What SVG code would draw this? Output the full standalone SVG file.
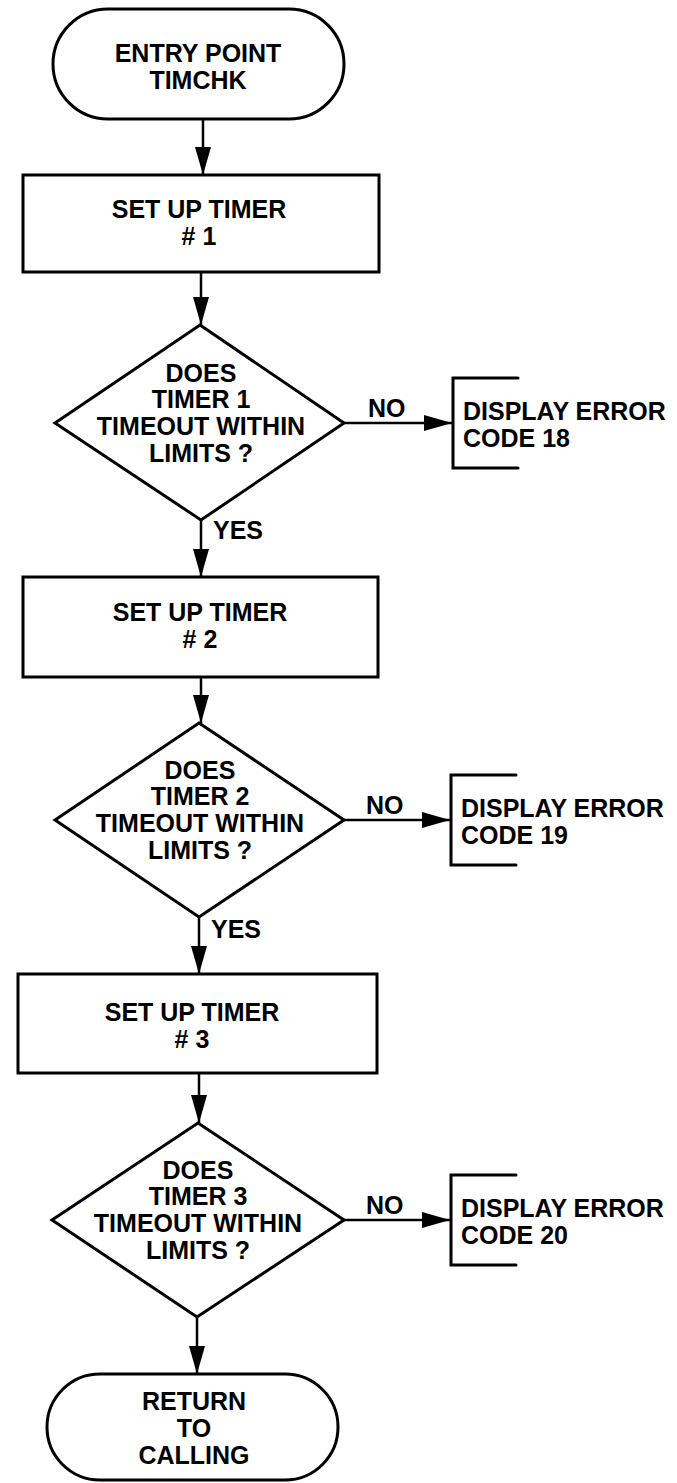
<svg xmlns="http://www.w3.org/2000/svg" width="677" height="1483" viewBox="0 0 677 1483">
<style>
.s{fill:#fff;stroke:#000;stroke-width:3;stroke-linejoin:miter}
.b{fill:none;stroke:#000;stroke-width:3;stroke-linecap:round}
.c{fill:none;stroke:#000;stroke-width:2.5}
text{font-family:"Liberation Sans",Arial,sans-serif;font-weight:bold;font-size:25px;fill:#000}
.m{text-anchor:middle}
</style>
<defs>
<marker id="ah" markerUnits="userSpaceOnUse" markerWidth="28" markerHeight="16" refX="28" refY="8" orient="auto">
<path d="M0,0 L28,8 L0,16 Z" fill="#000"/>
</marker>
</defs>
<rect width="677" height="1483" fill="#fff"/>
<g id="connectors">
<line class="c" x1="203" y1="119" x2="203" y2="175" marker-end="url(#ah)"/>
<line class="c" x1="201" y1="272" x2="201" y2="325" marker-end="url(#ah)"/>
<line class="c" x1="344" y1="423" x2="452" y2="423" marker-end="url(#ah)"/>
<line class="c" x1="201" y1="520" x2="201" y2="577" marker-end="url(#ah)"/>
<line class="c" x1="201" y1="677" x2="201" y2="723" marker-end="url(#ah)"/>
<line class="c" x1="344" y1="820" x2="450" y2="820" marker-end="url(#ah)"/>
<line class="c" x1="199" y1="917" x2="199" y2="974" marker-end="url(#ah)"/>
<line class="c" x1="199" y1="1073" x2="199" y2="1123" marker-end="url(#ah)"/>
<line class="c" x1="344" y1="1220" x2="450" y2="1220" marker-end="url(#ah)"/>
<line class="c" x1="197" y1="1317" x2="197" y2="1374" marker-end="url(#ah)"/>
<text x="368" y="417">NO</text>
<text x="213" y="539">YES</text>
<text x="366" y="814">NO</text>
<text x="211" y="938">YES</text>
<text x="366" y="1214">NO</text>
</g>
<g id="entry">
<rect class="s" x="53" y="9" width="291" height="110" rx="55" ry="55"/>
<text class="m" x="198" y="62">ENTRY POINT</text>
<text class="m" x="198" y="89">TIMCHK</text>
</g>
<g id="timer1">
<rect class="s" x="23" y="175" width="356" height="97"/>
<text class="m" x="199" y="218">SET UP TIMER</text>
<text class="m" x="199" y="245"># 1</text>
</g>
<g id="check1">
<polygon class="s" points="200,325 344,423 201,520 55,423"/>
<text class="m" x="201" y="382">DOES</text>
<text class="m" x="201" y="408">TIMER 1</text>
<text class="m" x="201" y="435">TIMEOUT WITHIN</text>
<text class="m" x="201" y="462">LIMITS ?</text>
</g>
<g id="error18">
<path class="b" d="M518,378 H453 V468 H518"/>
<text x="463" y="420">DISPLAY ERROR</text>
<text x="463" y="447">CODE 18</text>
</g>
<g id="timer2">
<rect class="s" x="23" y="577" width="355" height="100"/>
<text class="m" x="200" y="621">SET UP TIMER</text>
<text class="m" x="200" y="648"># 2</text>
</g>
<g id="check2">
<polygon class="s" points="199,723 344,820 199,917 55,820"/>
<text class="m" x="200" y="779">DOES</text>
<text class="m" x="200" y="805">TIMER 2</text>
<text class="m" x="200" y="832">TIMEOUT WITHIN</text>
<text class="m" x="200" y="859">LIMITS ?</text>
</g>
<g id="error19">
<path class="b" d="M516,775 H451 V865 H516"/>
<text x="461" y="817">DISPLAY ERROR</text>
<text x="461" y="844">CODE 19</text>
</g>
<g id="timer3">
<rect class="s" x="18" y="974" width="359" height="99"/>
<text class="m" x="192" y="1021">SET UP TIMER</text>
<text class="m" x="192" y="1048"># 3</text>
</g>
<g id="check3">
<polygon class="s" points="198,1123 344,1220 197,1317 52,1220"/>
<text class="m" x="198" y="1179">DOES</text>
<text class="m" x="198" y="1205">TIMER 3</text>
<text class="m" x="198" y="1232">TIMEOUT WITHIN</text>
<text class="m" x="198" y="1259">LIMITS ?</text>
</g>
<g id="error20">
<path class="b" d="M516,1175 H451 V1265 H516"/>
<text x="461" y="1217">DISPLAY ERROR</text>
<text x="461" y="1244">CODE 20</text>
</g>
<g id="return">
<rect class="s" x="47" y="1374" width="291" height="106" rx="53" ry="53"/>
<text class="m" x="194" y="1410">RETURN</text>
<text class="m" x="194" y="1437">TO</text>
<text class="m" x="194" y="1464">CALLING</text>
</g>
</svg>
